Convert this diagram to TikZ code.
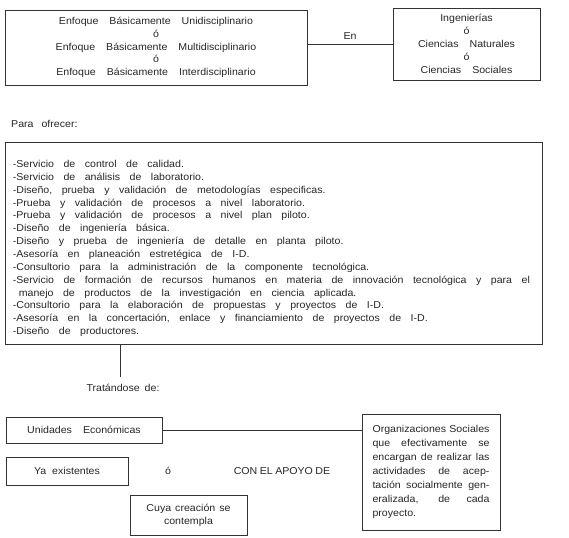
\documentclass[tikz,border=0pt]{standalone}
\usepackage{fontspec}
\setmainfont{Liberation Sans}[FakeStretch=1.06]
\usetikzlibrary{positioning,calc}
\tikzset{
  box/.style={draw=black!80,line width=0.7pt,align=center,inner sep=0pt},
  txt/.style={inner sep=1pt},
  link/.style={draw=black!80,line width=0.7pt}
}
\newcommand{\jline}[1]{\makebox[117pt][s]{#1}\\}
\newcommand{\gap}[1]{\spaceskip=#1\relax}

\begin{document}
\begin{tikzpicture}[x=1pt,y=-1pt,font=\fontsize{10}{12.85}\selectfont,text=black!85]
    \useasboundingbox (0,0) rectangle (569,537);
    % parte superior
    \node[box,minimum width=302pt,minimum height=75pt] (enfoque) at (156,47.5)
      {\gap{11pt}Enfoque Básicamente Unidisciplinario\\ó\\\gap{11pt}Enfoque Básicamente Multidisciplinario\\ó\\\gap{11pt}Enfoque Básicamente Interdisciplinario};
    \node[box,minimum width=147pt,minimum height=72pt] (areas) at (466.5,44)
      {Ingenierías\\ó\\\gap{11pt}Ciencias Naturales\\ó\\\gap{11pt}Ciencias Sociales};
    \draw[link] (areas.west -| enfoque.east) -- node[txt,above=3pt] (en) {En} (areas.west);
    \node[txt,anchor=west] (para) at (10,124) {\gap{8pt}Para ofrecer:};
    % servicios
    \node[box,anchor=north west,minimum width=537pt,minimum height=202pt,text width=522pt,align=left] (servicios) at (5,142)
      {\gap{9.5pt}\rule{0pt}{17.5pt}-Servicio de control de calidad.\\
       -Servicio de análisis de laboratorio.\\
       -Diseño, prueba y validación de metodologías especificas.\\
       -Prueba y validación de procesos a nivel laboratorio.\\
       -Prueba y validación de procesos a nivel plan piloto.\\
       -Diseño de ingeniería básica.\\
       -Diseño y prueba de ingeniería de detalle en planta piloto.\\
       -Asesoría en planeación estretégica de I-D.\\
       -Consultorio para la administración de la componente tecnológica.\\
       -Servicio de formación de recursos humanos en materia de innovación tecnológica y para el\\
       \hspace*{6pt}manejo de productos de la investigación en ciencia aplicada.\\
       -Consultorio para la elaboración de propuestas y proyectos de I-D.\\
       -Asesoría en la concertación, enlace y financiamiento de proyectos de I-D.\\
       -Diseño de productores.};
    \node[txt,inner ysep=7.5pt] (tratando) at (123,388) {\gap{5pt}Tratándose de:};
    \draw[link] ([xshift=-3pt]tratando.north |- servicios.south) -- ([xshift=-3pt]tratando.north);
    % parte inferior
    \node[box,minimum width=156pt,minimum height=26pt] (unidades) at (84,430) {\gap{11pt}Unidades Económicas};
    \node[box,minimum width=138pt,minimum height=116pt,text width=117pt,align=left,
          font=\fontsize{10}{13.9}\selectfont] (organizaciones) at (431,472)
      {\spaceskip=3pt plus 30pt minus 1pt
       \jline{Organizaciones Sociales}
       \jline{que efectivamente se}
       \jline{encargan de realizar las}
       \jline{actividades de acep-}
       \jline{tación socialmente gen-}
       \jline{eralizada, de cada}
       proyecto.};
    \draw[link] (unidades.east) -- (unidades.east -| organizaciones.west);
    \node[box,minimum width=122pt,minimum height=28pt] (existentes) at (67,471) {\gap{6pt}Ya existentes};
    \node[txt] (disyuncion) at (168,471) {ó};
    \node[txt] (apoyo) at (282,471) {\gap{2.5pt}CON EL APOYO DE};
    \node[box,minimum width=117pt,minimum height=40pt] (creacion) at (188.5,515) {\gap{4pt}Cuya creación se\\\gap{4pt}contempla};
  \end{tikzpicture}
\end{document}
